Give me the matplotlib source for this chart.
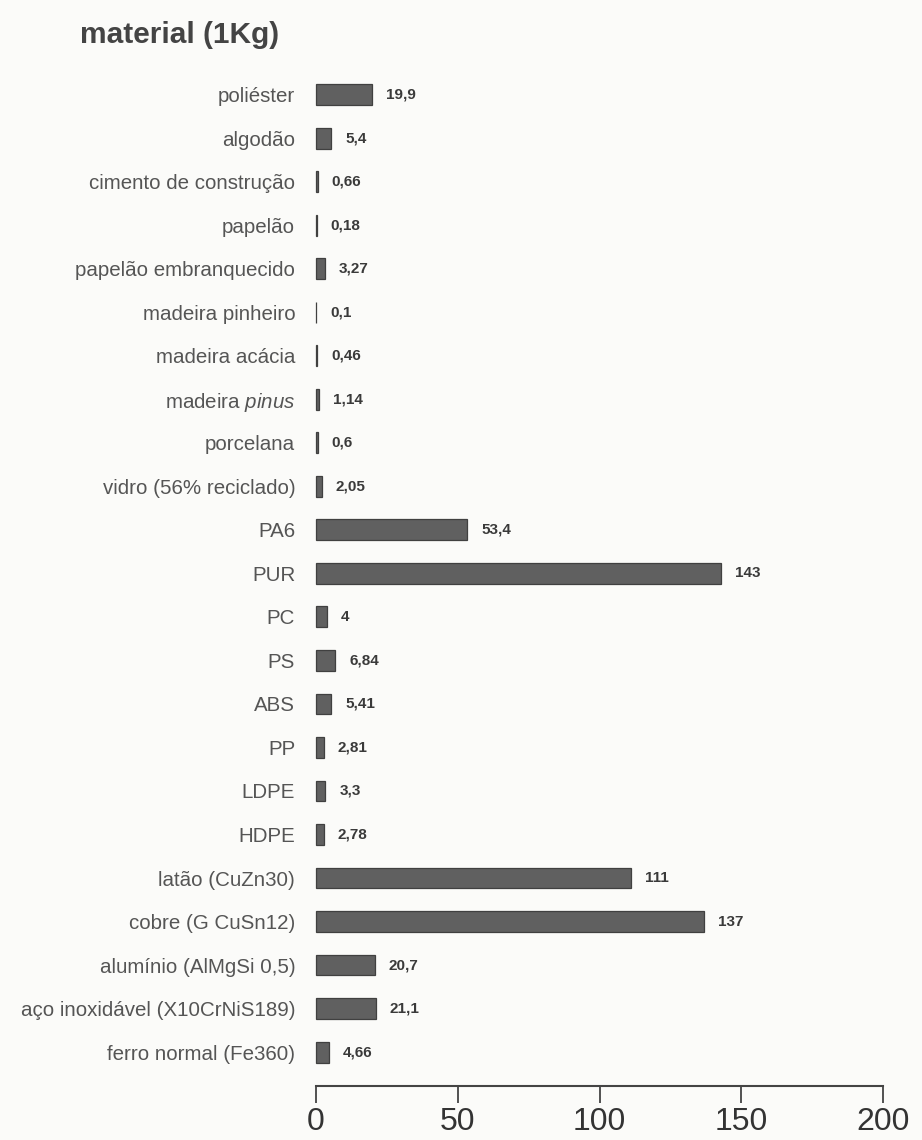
import matplotlib
matplotlib.use('Agg')
import matplotlib.pyplot as plt

plt.rcParams['font.family'] = ['Liberation Sans', 'DejaVu Sans']
plt.rcParams['mathtext.fontset'] = 'custom'
plt.rcParams['mathtext.it'] = 'Liberation Sans:italic'
plt.rcParams['mathtext.rm'] = 'Liberation Sans'

# data
materials = ['poliéster', 'algodão', 'cimento de construção', 'papelão',
             'papelão embranquecido', 'madeira pinheiro', 'madeira acácia',
             'madeira $\\mathit{pinus}$', 'porcelana', 'vidro (56% reciclado)',
             'PA6', 'PUR', 'PC', 'PS', 'ABS', 'PP', 'LDPE', 'HDPE',
             'latão (CuZn30)', 'cobre (G CuSn12)', 'alumínio (AlMgSi 0,5)',
             'aço inoxidável (X10CrNiS189)', 'ferro normal (Fe360)']
values = [19.9, 5.4, 0.66, 0.18, 3.27, 0.1, 0.46, 1.14, 0.6, 2.05,
          53.4, 143, 4, 6.84, 5.41, 2.81, 3.3, 2.78,
          111, 137, 20.7, 21.1, 4.66]
value_labels = ['19,9', '5,4', '0,66', '0,18', '3,27', '0,1', '0,46', '1,14',
                '0,6', '2,05', '53,4', '143', '4', '6,84', '5,41', '2,81',
                '3,3', '2,78', '111', '137', '20,7', '21,1', '4,66']
xticks = [0, 50, 100, 150, 200]

fig = plt.figure(figsize=(9.22, 11.4), dpi=100, facecolor='#fbfbf9')
ax = fig.add_axes([316 / 922, 1 - 1086 / 1140, 567 / 922, (1086 - 73) / 1140])
ax.set_facecolor('#fbfbf9')

ypos = list(range(len(materials)))
ax.barh(ypos, values, height=0.48, color='#606060', edgecolor='#404040',
        linewidth=0.9, clip_on=False)

for y, v, lab in zip(ypos, values, value_labels):
    ax.annotate(lab, (v, y), xytext=(10, 0), textcoords='offset points',
                ha='left', va='center', fontsize=11, fontweight='bold',
                color='#3a3a3a')

ax.set_xlim(0, 200)
ax.set_ylim(22.78, -0.5)
ax.set_yticks(ypos)
ax.set_yticklabels(materials, fontsize=14.8, color='#555555')
ax.tick_params(axis='y', length=0, pad=15)
ax.set_xticks(xticks)
ax.set_xticklabels([str(t) for t in xticks], fontsize=23, color='#333333')
ax.tick_params(axis='x', direction='out', length=12, width=1.3,
               color='#444444', pad=3)

for s in ['top', 'right', 'left']:
    ax.spines[s].set_visible(False)
ax.spines['bottom'].set_linewidth(1.5)
ax.spines['bottom'].set_color('#444444')

fig.text(80 / 922, 1 - 35 / 1140, 'material (1Kg)', fontsize=21.5,
         fontweight='bold', color='#444444', ha='left', va='center')

fig.savefig('out.png', dpi=100, facecolor=fig.get_facecolor())
